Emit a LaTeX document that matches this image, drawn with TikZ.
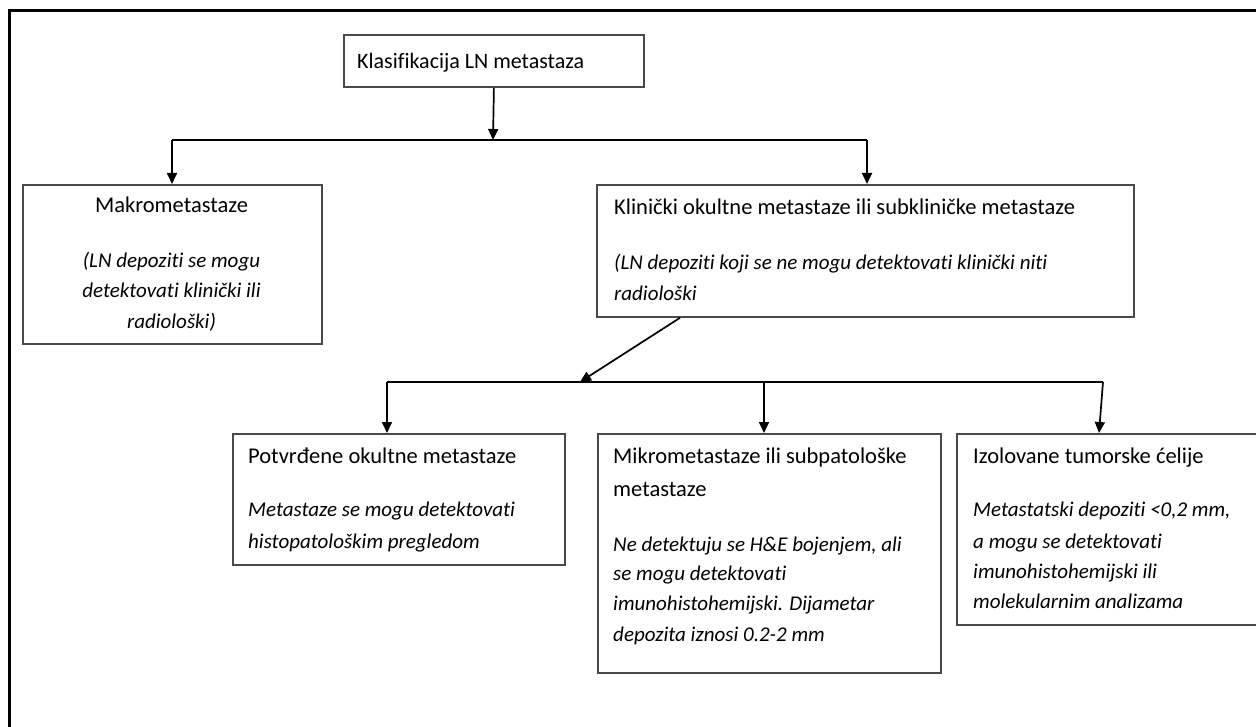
\documentclass[tikz,border=0pt]{standalone}
\usepackage{fontspec}
\setmainfont{Carlito}[Ligatures=NoCommon]
\usetikzlibrary{arrows.meta}
\definecolor{boxline}{HTML}{4A4A4A}
\begin{document}
\begin{tikzpicture}[x=1pt,y=-1pt,
  box/.style={draw=boxline, line width=1.8pt, rectangle, inner sep=0pt, anchor=north west},
  conn/.style={line width=1.7pt, black},
  arr/.style={conn, -{Triangle[length=11pt,width=10pt]}},
  ttl/.style={anchor=base west, inner sep=0pt, font=\fontsize{22.5}{30}\selectfont},
  ttlc/.style={anchor=base, inner sep=0pt, font=\fontsize{22.5}{30}\selectfont},
  itl/.style={anchor=base west, inner sep=0pt, font=\fontsize{21}{30}\selectfont\itshape},
  itlc/.style={anchor=base, inner sep=0pt, font=\fontsize{21}{30}\selectfont\itshape}]
\useasboundingbox (0,0) rectangle (1256,727);
\clip (0,0) rectangle (1256,727);
% outer frame
\draw[line width=3pt, black] (9,760) -- (9,11) -- (1300,11);

% boxes
\node[box, minimum width=300pt, minimum height=52pt] (top) at (343,34) {};
\node[box, minimum width=299pt, minimum height=159pt] (makro) at (22,184) {};
\node[box, minimum width=537pt, minimum height=132pt] (klin) at (596,184) {};
\node[box, minimum width=332pt, minimum height=131pt] (potv) at (232,433) {};
\node[box, minimum width=343pt, minimum height=239pt] (mikro) at (597,433) {};
\node[box, minimum width=330pt, minimum height=191pt] (izol) at (956,433) {};

% texts
\node[ttl, font=\fontsize{22}{30}\selectfont] (t0) at (357,69) {Klasifikacija LN metastaza};

\node[ttlc] (t1) at (171.5,213) {Makrometastaze};
\node[itlc] (t1a) at (171.5,268) {(LN depoziti se mogu};
\node[itlc] (t1b) at (171.5,298) {detektovati klinički ili};
\node[itlc] (t1c) at (171.5,329) {radiološki)};

\node[ttl] (t2) at (614,215) {Klinički okultne metastaze ili subkliničke metastaze};
\node[itl] (t2a) at (614,270) {(LN depoziti koji se ne mogu detektovati klinički niti};
\node[itl] (t2b) at (614,301) {radiološki};

\node[ttl] (t3) at (248,463) {Potvrđene okultne metastaze};
\node[itl] (t3a) at (248,516) {Metastaze se mogu detektovati};
\node[itl] (t3b) at (248,548) {histopatološkim pregledom};

\node[ttl] (t4) at (613,463) {Mikrometastaze ili subpatološke};
\node[ttl] (t4b) at (613,496) {metastaze};
\node[itl] (t4c) at (613,551) {Ne detektuju se H\&E bojenjem, ali};
\node[itl] (t4d) at (613,580) {se mogu detektovati};
\node[itl] (t4e) at (613,610) {imunohistohemijski. Dijametar};
\node[itl] (t4f) at (613,641) {depozita iznosi 0.2-2 mm};

\node[ttl] (t5) at (973,463) {Izolovane tumorske ćelije};
\node[itl] (t5a) at (973,516) {Metastatski depoziti <0,2 mm,};
\node[itl] (t5b) at (973,548) {a mogu se detektovati};
\node[itl] (t5c) at (973,578) {imunohistohemijski ili};
\node[itl] (t5d) at (973,608) {molekularnim analizama};

% junction coordinates
\coordinate (j1) at (493,140);
\coordinate (j1L) at (172,140);
\coordinate (j1R) at (867,140);
\coordinate (j2) at (580,382);
\coordinate (j2L) at (387,382);
\coordinate (j2M) at (764,382);
\coordinate (j2R) at (1103,382);

% connectors
\draw[arr] (top.south) -- (j1);
\draw[conn] (j1L) -- (j1R);
\draw[arr] (j1L) -- (j1L |- makro.north);
\draw[arr] (j1R) -- (j1R |- klin.north);
\draw[arr] ([xshift=84pt]klin.south west) -- (j2);
\draw[conn] (j2L) -- (j2R);
\draw[arr] (j2L) -- (j2L |- potv.north);
\draw[arr] (j2M) -- (j2M |- mikro.north);
\draw[arr] (j2R) -- ([xshift=-4pt]j2R |- izol.north);
\end{tikzpicture}
\end{document}
